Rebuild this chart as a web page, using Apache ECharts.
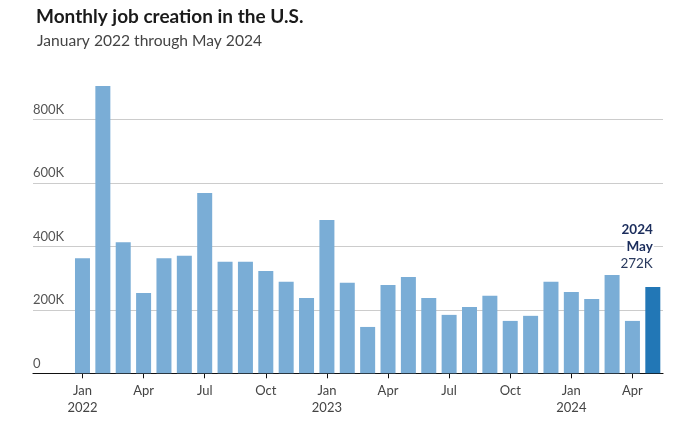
<!DOCTYPE html>
<html>
<head>
<meta charset="utf-8">
<script src="https://cdn.jsdelivr.net/npm/echarts@6/dist/echarts.min.js"></script>
<style>
  html, body { margin: 0; padding: 0; background: #fff; }
  #chart { width: 673px; height: 426px; }
</style>
</head>
<body>
<div id="chart"></div>
<script>
// ---- Data (thousands of jobs) ----
const categories = [
  'Jan 2022','Feb 2022','Mar 2022','Apr 2022','May 2022','Jun 2022','Jul 2022','Aug 2022','Sep 2022','Oct 2022','Nov 2022','Dec 2022',
  'Jan 2023','Feb 2023','Mar 2023','Apr 2023','May 2023','Jun 2023','Jul 2023','Aug 2023','Sep 2023','Oct 2023','Nov 2023','Dec 2023',
  'Jan 2024','Feb 2024','Mar 2024','Apr 2024','May 2024'
];
const jobs = [
  362, 905, 413, 253, 362, 370, 568, 351, 351, 322, 288, 237,
  483, 285, 146, 278, 303, 237, 184, 209, 244, 165, 181, 288,
  256, 234, 310, 165, 272
];
const yTickLabels = { 0: '0', 200: '200K', 400: '400K', 600: '600K', 800: '800K' };
const tickMonths = ['Jan', 'Apr', 'Jul', 'Oct'];

const FONT = 'Lato, "Open Sans", sans-serif';
const lightBlue = '#7aadd6';
const darkBlue = '#2277b6';

const lastIdx = jobs.length - 1;
const lastParts = categories[lastIdx].split(' ');

const seriesData = jobs.map((v, i) => {
  if (i !== lastIdx) return v;
  return {
    value: v,
    itemStyle: { color: darkBlue },
    label: {
      show: true,
      position: 'top',
      align: 'right',
      distance: 15,
      offset: [1, 0],
      formatter: '{y|' + lastParts[1] + '}\n{m|' + lastParts[0] + '}\n{v|' + v + 'K}',
      rich: {
        y: { fontFamily: FONT, fontSize: 13.5, fontWeight: 'bold', color: '#1b2d5c', lineHeight: 17, backgroundColor: '#fff', padding: [0, 1, 0, 2], align: 'right' },
        m: { fontFamily: FONT, fontSize: 13.5, fontWeight: 'bold', color: '#1b2d5c', lineHeight: 17, backgroundColor: '#fff', padding: [0, 1, 0, 2], align: 'right' },
        v: { fontFamily: FONT, fontSize: 13.5, color: '#2a3a5e', lineHeight: 17, backgroundColor: '#fff', padding: [0, 1, 0, 2], align: 'right' }
      }
    }
  };
});

const chart = echarts.init(document.getElementById('chart'), null, { renderer: 'canvas' });
const gridTop = 55.8, gridBottom = 52.7;
const gridColors = ['#cccccc', '#cccccc', '#cccccc', '#cccccc', '#cccccc', 'rgba(0,0,0,0)'];

chart.setOption({
  animation: false,
  backgroundColor: '#ffffff',
  title: [
    { text: 'Monthly job creation in the U.S.', left: 31, top: 2,
      textStyle: { fontFamily: FONT, fontSize: 19, fontWeight: 'bold', color: '#1a1a1a' } },
    { text: 'January 2022 through May 2024', left: 32, top: 28,
      textStyle: { fontFamily: FONT, fontSize: 15.6, fontWeight: 'normal', color: '#444444' } }
  ],
  grid: [
    { left: 33, right: 10, top: gridTop, bottom: gridBottom, containLabel: false },
    { left: 72.3, right: 10, top: gridTop, bottom: gridBottom, containLabel: false }
  ],
  xAxis: [
    { type: 'value', gridIndex: 0, min: 0, max: 1,
      axisLine: { show: true, onZero: false, lineStyle: { color: '#111', width: 1.2 } },
      axisTick: { show: false }, axisLabel: { show: false }, splitLine: { show: false } },
    { type: 'category', gridIndex: 1, data: categories, boundaryGap: true,
      axisLine: { show: false },
      axisTick: { show: true, alignWithLabel: true, length: 5, lineStyle: { color: '#111' },
        interval: (i, v) => tickMonths.includes(v.split(' ')[0]) },
      axisLabel: {
        interval: (i, v) => tickMonths.includes(v.split(' ')[0]),
        margin: 9,
        fontFamily: FONT, fontSize: 13, color: '#444', lineHeight: 17,
        formatter: (v) => {
          const p = v.split(' ');
          return p[0] === 'Jan' ? p[0] + '\n' + p[1] : p[0];
        }
      },
      splitLine: { show: false } }
  ],
  yAxis: [
    { type: 'value', gridIndex: 0, min: 0, max: 1000, interval: 200,
      axisLine: { show: false }, axisTick: { show: false },
      splitLine: { show: true, lineStyle: { color: gridColors, width: 1 } },
      axisLabel: {
        inside: true, margin: 0, verticalAlign: 'bottom', padding: [0, 0, 3, 0],
        fontFamily: FONT, fontSize: 13, color: '#555',
        formatter: (v) => (yTickLabels[v] !== undefined ? yTickLabels[v] : '')
      } },
    { type: 'value', gridIndex: 1, min: 0, max: 1000, interval: 200, show: false,
      splitLine: { show: false } }
  ],
  series: [
    { type: 'bar', xAxisIndex: 1, yAxisIndex: 1, data: seriesData,
      barWidth: 15, itemStyle: { color: lightBlue }, z: 3 }
  ]
});
</script>
</body>
</html>
